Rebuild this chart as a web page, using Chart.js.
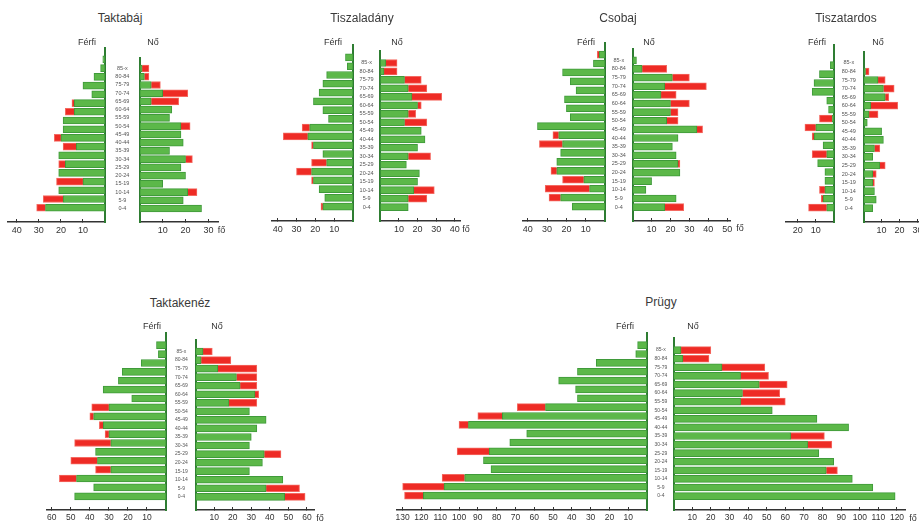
<!DOCTYPE html>
<html>
<head>
<meta charset="utf-8">
<script src="https://cdn.jsdelivr.net/npm/chart.js@4.4.0/dist/chart.umd.min.js"></script>
<style>
body{margin:0;width:919px;height:521px;overflow:hidden;background:#fff;position:relative;font-family:'Liberation Sans',Arial,sans-serif;color:#333}
canvas{position:absolute}
.t{position:absolute;transform:translate(-50%,-50%);white-space:nowrap;line-height:1}
.title{font-size:12px;color:#3a3a3a}
.side{font-size:9px}
.fo{font-size:9px}
</style>
</head>
<body>
<script>
// korcsoportok, felülről lefelé
const ages=['85-x','80-84','75-79','70-74','65-69','60-64','55-59','50-54','45-49','40-44','35-39','30-34','25-29','20-24','15-19','10-14','5-9','0-4']

// zöld = alap, piros = többlet
const taktabajFerfi=[1,2,5,10,6,14,14,19,19,20,13,21,18,21,10,21,19,27]
const taktabajFerfiPlus=[0,0,0,0,0,1,4,0,0,3,6,0,3,0,12,0,9,4]
const taktabajNo=[1,2,5,10,5,14,13,18,18,19,13,20,18,20,10,21,19,27]
const taktabajNoPlus=[3,2,4,11,12,0,0,4,0,0,0,3,0,0,0,4,0,0]

const tiszaladanyFerfi=[4,3,14,16,18,21,16,13,23,24,21,16,14,22,21,18,15,16]
const tiszaladanyFerfiPlus=[0,0,0,0,0,0,0,0,4,13,1,0,8,8,1,0,0,1]
const tiszaladanyNo=[3,2,13,15,17,20,15,13,22,24,20,15,14,21,20,18,15,15]
const tiszaladanyNoPlus=[6,7,9,10,16,2,4,12,0,0,0,12,0,0,0,11,10,0]

const csobajFerfi=[3,6,22,18,15,21,20,18,35,24,22,23,25,25,11,8,23,17]
const csobajFerfiPlus=[1,0,0,0,0,0,0,0,0,3,12,0,0,3,11,23,6,0]
const csobajNo=[2,5,21,17,15,20,20,18,34,24,21,23,24,25,10,7,23,17]
const csobajNoPlus=[0,13,9,22,8,10,4,6,3,0,0,0,1,0,0,0,0,10]

const tiszatardosFerfi=[0,2,8,11,12,4,3,1,10,11,6,4,9,5,5,5,6,4]
const tiszatardosFerfiPlus=[0,0,0,0,0,0,0,7,6,1,0,8,0,0,0,3,1,10]
const tiszatardosNo=[0,1,8,11,12,4,3,2,10,11,6,5,9,5,5,6,7,5]
const tiszatardosNoPlus=[0,2,4,6,2,15,5,0,0,0,3,0,3,2,1,0,0,0]

const taktakenezFerfi=[5,4,13,23,25,33,18,30,38,33,30,29,37,36,29,47,38,48]
const taktakenezFerfiPlus=[0,0,0,0,0,0,0,9,2,2,2,19,0,14,8,9,0,0]
const taktakenezNo=[4,3,12,22,24,32,18,29,38,33,30,29,37,36,29,47,38,48]
const taktakenezNoPlus=[5,16,21,11,9,2,15,0,0,0,0,0,9,0,0,0,18,11]

const prugyFerfi=[5,6,27,37,47,38,37,54,77,95,64,73,84,87,83,97,108,119]
const prugyFerfiPlus=[0,0,0,0,0,0,0,15,13,5,0,0,17,0,0,12,22,10]
const prugyNo=[4,5,26,36,46,37,36,53,77,94,63,72,78,86,82,96,107,119]
const prugyNoPlus=[16,14,23,15,15,20,24,0,0,0,18,13,0,0,6,0,0,0]

const GREEN='#5cb849', GREEN_B='#3f9a3a', RED='#ee2b25', RED_B='#f46a62'
const AXIS_G='#2e7d32', AXIS='#333'

// elhelyezés (px)
const pyramids=[
  {name:'Taktabáj',m:[taktabajFerfi,taktabajFerfiPlus],f:[taktabajNo,taktabajNoPlus],
   tx:120,ty:18,fx:87,nx:153,sy:42,top:48,axisY:222,row0:55,row17:212,lx0:8,lx1:104.5,rx0:139.3,rx1:217,lmax:44,rmax:34.2,foX:221.5,fs:9,as:5.5},
  {name:'Tiszaladány',m:[tiszaladanyFerfi,tiszaladanyFerfiPlus],f:[tiszaladanyNo,tiszaladanyNoPlus],
   tx:362,ty:18,fx:333,nx:397,sy:42,top:45,axisY:221,row0:53,row17:211,lx0:272,lx1:352.7,rx0:380,rx1:460,lmax:43,rmax:42.8,foX:466,fs:9,as:5.5},
  {name:'Csobaj',m:[csobajFerfi,csobajFerfiPlus],f:[csobajNo,csobajNoPlus],
   tx:618,ty:18,fx:586,nx:649,sy:42,top:43,axisY:220.7,row0:50,row17:210.7,lx0:523,lx1:605,rx0:632.7,rx1:730,lmax:42.5,rmax:51.5,foX:740,fs:9,as:5.5},
  {name:'Tiszatardos',m:[tiszatardosFerfi,tiszatardosFerfiPlus],f:[tiszatardosNo,tiszatardosNoPlus],
   tx:846,ty:18,fx:817,nx:878,sy:42,top:45,axisY:221.7,row0:51.7,row17:211.7,lx0:786,lx1:834.3,rx0:864,rx1:930,lmax:26.4,rmax:37,foX:null,fs:9,as:5.5},
  {name:'Taktakenéz',m:[taktakenezFerfi,taktakenezFerfiPlus],f:[taktakenezNo,taktakenezNoPlus],
   tx:180,ty:303,fx:152,nx:217,sy:326,top:333,axisY:510,row0:340.7,row17:500.7,lx0:47,lx1:165.7,rx0:195.3,rx1:314,lmax:62.5,rmax:63.8,foX:320,fs:8.5,as:5},
  {name:'Prügy',m:[prugyFerfi,prugyFerfiPlus],f:[prugyNo,prugyNoPlus],
   tx:661,ty:302,fx:625,nx:693,sy:326,top:333,axisY:510,row0:340.7,row17:500,lx0:397,lx1:646.7,rx0:673.3,rx1:905,lmax:133,rmax:124.3,foX:913,fs:8.5,as:5}
]

function addText(txt,x,y,cls){
  const s=document.createElement('span')
  s.className='t '+cls
  s.textContent=txt
  s.style.left=x+'px'
  s.style.top=y+'px'
  document.body.append(s)
}

function addCanvas(l,t,w,h){
  const c=document.createElement('canvas')
  c.width=w;c.height=h
  c.style.left=l+'px';c.style.top=t+'px'
  c.style.width=w+'px';c.style.height=h+'px'
  document.body.append(c)
  return c
}

function sets(pair){
  return [
    {data:pair[0].map(v=>v||null),backgroundColor:GREEN,borderColor:GREEN_B,borderWidth:1,borderSkipped:false},
    {data:pair[1].map(v=>v||null),backgroundColor:RED,borderColor:RED_B,borderWidth:1,borderSkipped:'start'}
  ]
}

function tensUpTo(max){
  const out=[]
  for(let v=10;v<=max;v+=10) out.push({value:v})
  return out
}

function side(p,isLeft){
  const H=p.axisY-p.top
  const range=17*H/(p.row17-p.row0)
  const yMin=-(p.row0-p.top)*range/H
  const ct=p.top-4, ch=Math.round(p.axisY-ct+18)
  const idx=ages.map((a,i)=>i)
  const xMax=isLeft?p.lmax:p.rmax
  let cl,cw,pad,yw
  if(isLeft){
    cl=p.lx0-14; cw=Math.round(p.lx1+2-cl); pad={left:14,right:2,top:4,bottom:0}; yw=0
  }else{
    cl=p.lx1+2; yw=p.rx0-cl; cw=Math.round(p.rx1+22-cl); pad={left:0,right:22,top:4,bottom:0}
  }
  const canvas=addCanvas(cl,ct,cw,ch)
  new Chart(canvas,{
    type:'bar',
    data:{labels:idx,datasets:sets(isLeft?p.m:p.f)},
    options:{
      indexAxis:'y',
      responsive:false,
      animation:false,
      devicePixelRatio:1,
      barThickness:7,
      layout:{padding:pad},
      plugins:{legend:{display:false},tooltip:{enabled:false}},
      scales:{
        x:{
          type:'linear',reverse:isLeft,min:0,max:xMax,stacked:true,
          grid:{drawOnChartArea:false,color:AXIS,tickLength:-3},
          border:{color:AXIS,width:1.5},
          afterBuildTicks:s=>{s.ticks=tensUpTo(xMax)},
          ticks:{autoSkip:false,maxRotation:0,padding:6,color:'#333',font:{size:p.fs,family:'Liberation Sans'}},
          afterFit:s=>{s.height=18}
        },
        y:{
          type:'linear',position:isLeft?'right':'left',reverse:true,min:yMin,max:yMin+range,stacked:true,z:1,
          grid:{display:false,drawTicks:false},
          border:{color:AXIS_G,width:2},
          afterBuildTicks:s=>{s.ticks=idx.map(v=>({value:v}))},
          ticks:{display:!isLeft,autoSkip:false,crossAlign:'center',padding:(p.rx0-p.lx1)/2-7,
            color:'#555',font:{size:p.as,family:'Liberation Sans'},callback:v=>ages[v]},
          afterFit:s=>{s.width=yw}
        }
      }
    }
  })
}

pyramids.forEach(p=>{
  side(p,true)
  side(p,false)
  addText(p.name,p.tx,p.ty,'title')
  addText('Férfi',p.fx,p.sy,'side')
  addText('Nő',p.nx,p.sy,'side')
  if(p.foX) addText('fő',p.foX,p.axisY+7.5,'fo')
})
</script>
</body>
</html>
